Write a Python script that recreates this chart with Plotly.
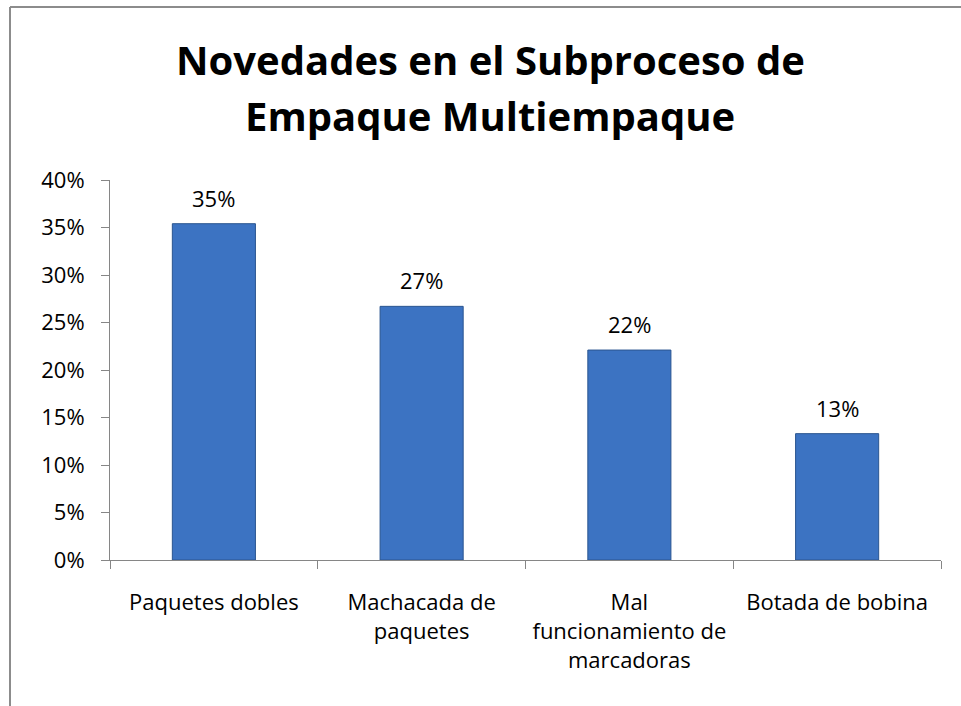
import plotly.graph_objects as go

categories = ["Paquetes dobles", "Machacada de<br>paquetes", "Mal<br>funcionamiento de<br>marcadoras", "Botada de bobina"]
values = [0.354, 0.267, 0.221, 0.133]
y_ticks = [0, 0.05, 0.10, 0.15, 0.20, 0.25, 0.30, 0.35, 0.40]
title_lines = ["Novedades en el Subproceso de", "Empaque Multiempaque"]

W, H = 961, 706
ML, MR, MT, MB = 110, 20, 180, 146
PW, PH = W - ML - MR, H - MT - MB

FONT = "Open Sans"
FS = 22

def px_x(p):
    return (p - ML) / PW

def px_y(p):
    return (H - MB - p) / PH

fig = go.Figure()
fig.add_trace(go.Bar(
    x=categories, y=values,
    width=0.4,
    marker=dict(color="#3c73c2", line=dict(color="#2a5590", width=1)),
    hoverinfo="skip",
))

annotations = []
for line, cy in zip(title_lines, [59, 116]):
    annotations.append(dict(
        text="<b>%s</b>" % line, showarrow=False,
        xref="paper", yref="paper", x=px_x(490), y=px_y(cy),
        xanchor="center", yanchor="middle",
        font=dict(family=FONT, size=40, color="#000000"),
    ))
for c, v in zip(categories, values):
    annotations.append(dict(
        text="{:.0%}".format(v), showarrow=False,
        xref="x", yref="y", x=c, y=v, yshift=26,
        xanchor="center", yanchor="middle",
        font=dict(family=FONT, size=FS, color="#000000"),
    ))

fig.update_layout(
    width=W, height=H,
    margin=dict(l=ML, r=MR, t=MT, b=MB),
    paper_bgcolor="white", plot_bgcolor="white",
    showlegend=False,
    annotations=annotations,
    xaxis=dict(
        showline=True, linecolor="#868686", linewidth=1,
        ticks="outside", ticklen=8, tickcolor="#868686",
        tickson="boundaries", ticklabelstandoff=23,
        tickfont=dict(family=FONT, size=FS, color="#000000"),
        showgrid=False,
    ),
    yaxis=dict(
        range=[0, 0.40], tickvals=y_ticks, tickformat=".0%",
        showline=True, linecolor="#868686", linewidth=1,
        ticks="outside", ticklen=8, tickcolor="#868686",
        ticklabelstandoff=12,
        tickfont=dict(family=FONT, size=FS, color="#000000"),
        showgrid=False, zeroline=False,
    ),
    shapes=[
        dict(type="line", xref="paper", yref="paper",
             x0=px_x(10), x1=px_x(10), y0=px_y(7), y1=px_y(H + 5),
             line=dict(color="#8c8c8c", width=2)),
        dict(type="line", xref="paper", yref="paper",
             x0=px_x(10), x1=px_x(W + 5), y0=px_y(7), y1=px_y(7),
             line=dict(color="#8c8c8c", width=2)),
    ],
)

fig.write_html("out.html", config={"displayModeBar": False},
               post_script="document.body.style.margin='0px';document.body.style.overflow='hidden';")
